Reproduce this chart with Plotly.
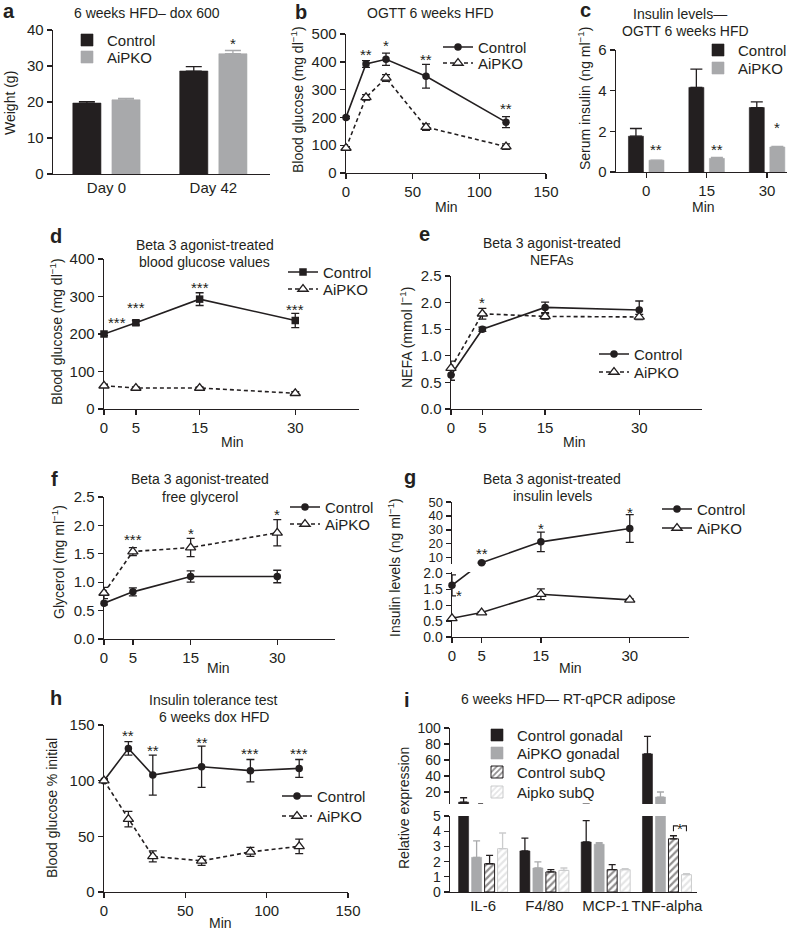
import plotly.graph_objects as go

W, H = 788, 933
FONT = "Liberation Sans, Arial, Helvetica, sans-serif"
INK = "#231f20"
GREY = "#a8a9ab"
LIGHT = "#cbcccd"
TICK_SIZE = 15
LEG_SIZE = 15

# ---------------- data ----------------
# a: body weight
a_days = ["Day 0", "Day 42"]
a_control = [19.7, 28.6]
a_control_sem = [0.4, 1.2]
a_aipko = [20.6, 33.4]
a_aipko_sem = [0.4, 0.9]
a_stars = ["", "*"]
a_star_y = [0, 37.3]

# b: OGTT glucose
b_min = [0, 15, 30, 60, 120]
b_control = [200, 392, 409, 348, 183]
b_control_sem = [4, 12, 22, 43, 20]
b_aipko = [90, 272, 342, 165, 95]
b_aipko_sem = [5, 10, 12, 12, 10]
b_stars = ["", "**", "*", "**", "**"]
b_star_y = [0, 440, 472, 421, 248]

# c: OGTT insulin
c_min = ["0", "15", "30"]
c_control = [1.76, 4.16, 3.17]
c_control_sem = [0.38, 0.9, 0.28]
c_aipko = [0.58, 0.67, 1.23]
c_aipko_sem = [0.0, 0.05, 0.03]
c_stars = ["**", "**", "*"]
c_star_y = [1.3, 1.3, 2.4]

# d-g: beta 3 agonist time course
t_min = [0, 5, 15, 30]
d_control = [200, 230, 293, 236]
d_control_sem = [4, 6, 17, 19]
d_aipko = [62, 56, 56, 42]
d_aipko_sem = [4, 3, 3, 4]
d_star_x = [2.1, 5, 15, 30]
d_star_y = [242, 281, 335, 277]
d_stars = ["***", "***", "***", "***"]

e_control = [0.64, 1.50, 1.91, 1.86]
e_control_sem = [0.10, 0.04, 0.10, 0.17]
e_aipko = [0.77, 1.79, 1.74, 1.73]
e_aipko_sem = [0.13, 0.10, 0.05, 0.05]
e_star_x = [5]
e_star_y = [2.08]
e_stars = ["*"]

f_control = [0.63, 0.83, 1.10, 1.10]
f_control_sem = [0.03, 0.07, 0.10, 0.11]
f_aipko = [0.81, 1.54, 1.61, 1.87]
f_aipko_sem = [0.10, 0.07, 0.16, 0.23]
f_star_x = [5, 15, 30]
f_star_y = [1.82, 1.93, 2.26]
f_stars = ["***", "*", "*"]

g_control = [1.63, 6.4, 21.4, 31.0]
g_control_sem = [0.33, 0.5, 7.0, 10.0]
g_aipko = [0.59, 0.77, 1.35, 1.17]
g_aipko_sem = [0.03, 0.03, 0.17, 0.03]
g_star_x = [1.2, 5, 15, 30]
g_star_y = [1.44, 16, 34, 45]
g_stars = ["*", "**", "*", "*"]

# h: insulin tolerance test
h_min = [0, 15, 30, 60, 90, 120]
h_control = [100, 129, 105, 112.5, 109, 111]
h_control_sem = [1.5, 6, 18, 18.5, 10, 8]
h_aipko = [100, 65.5, 32, 28, 36, 41]
h_aipko_sem = [1.5, 7, 5, 4, 4, 6.5]
h_star_x = [15, 30, 60, 90, 120]
h_star_y = [144, 131, 138, 128, 128]
h_stars = ["**", "**", "**", "***", "***"]

# i: RT-qPCR
i_genes = ["IL-6", "F4/80", "MCP-1", "TNF-alpha"]
i_ctrl_gon = [7.4, 2.7, 3.29, 67.6]
i_ctrl_gon_sem = [5.4, 0.85, 1.4, 22]
i_aipko_gon = [2.28, 1.58, 3.14, 13.7]
i_aipko_gon_sem = [1.08, 0.4, 0.1, 6.3]
i_ctrl_subq = [1.86, 1.32, 1.47, 3.5]
i_ctrl_subq_sem = [0.55, 0.15, 0.33, 0.2]
i_aipko_subq = [2.85, 1.42, 1.47, 1.14]
i_aipko_subq_sem = [1.03, 0.16, 0.07, 0.06]


# ---------------- helpers ----------------
def X(px):
    return px / W


def Y(py):
    return 1 - py / H


layout = dict(width=W, height=H, margin=dict(l=0, r=0, t=0, b=0, autoexpand=False),
              paper_bgcolor="white", plot_bgcolor="white",
              font=dict(family=FONT, size=14, color=INK),
              barmode="overlay", showlegend=True, hovermode=False)
annotations = []
shapes = []
fig = go.Figure()

AX = dict(showline=True, linecolor=INK, linewidth=1.4, ticks="outside", ticklen=5,
          tickwidth=1.4, tickcolor=INK, showgrid=False, zeroline=False,
          tickfont=dict(family=FONT, size=TICK_SIZE, color=INK), layer="below traces",
          fixedrange=True, automargin=False)


def axes(n, xpx, ypx, xr, yr, xkw=None, ykw=None):
    sx = "" if n == 1 else str(n)
    layout["xaxis" + sx] = dict(AX, domain=[X(xpx[0]), X(xpx[1])], range=xr,
                                anchor="y" + sx, **(xkw or {}))
    layout["yaxis" + sx] = dict(AX, domain=[Y(ypx[0]), Y(ypx[1])], range=yr,
                                anchor="x" + sx, **(ykw or {}))
    return "x" + sx, "y" + sx


def break_tick(xa, ya, yv):
    # small outside tick marking the bottom of an upper (broken) axis segment
    shapes.append(dict(type="line", xref=xa, yref=ya, xsizemode="pixel", xanchor=0,
                       x0=-5, x1=0, y0=yv, y1=yv, line=dict(color=INK, width=1.4)))


leg_count = [0]
LEG_HALF = 5 + (LEG_SIZE * 1.3 + 3) / 2


def legend_at(text_px, row_py):
    leg_count[0] += 1
    name = "legend" if leg_count[0] == 1 else "legend%d" % leg_count[0]
    layout[name] = dict(x=X(text_px - 40), xanchor="left", y=Y(row_py - LEG_HALF),
                        yanchor="top", bgcolor="rgba(0,0,0,0)", borderwidth=0,
                        font=dict(family=FONT, size=LEG_SIZE, color=INK), itemwidth=30,
                        tracegroupgap=0)
    return name


def text(px, py, s, size=14, bold=False, xanchor="center", angle=0):
    annotations.append(dict(x=X(px), y=Y(py), xref="paper", yref="paper",
                            text="<b>%s</b>" % s if bold else s, showarrow=False,
                            xanchor=xanchor, yanchor="middle", textangle=angle,
                            font=dict(family=FONT, size=size, color=INK)))


def stars(xa, ya, xs, ys, labels):
    for xv, yv, t in zip(xs, ys, labels):
        if t:
            annotations.append(dict(x=xv, y=yv, xref=xa, yref=ya, text=t, showarrow=False,
                                    yshift=-4, font=dict(family=FONT, size=15, color=INK)))


CTRL_LINE = dict(color=INK, width=1.6)
AIP_DASH = dict(color=INK, width=1.6, dash="4px,3px")
CTRL_MARK = dict(symbol="circle", size=7.5, color=INK)
AIP_MARK = dict(symbol="triangle-up", size=9, color="white", line=dict(color=INK, width=1.3))


def err(arr):
    return dict(type="data", array=arr, color=INK, thickness=1.3, width=4)


def line_pair(xa, ya, xs, ctrl, ctrl_sem, aip, aip_sem, leg1, leg2,
              ctrl_symbol="circle", aip_line=AIP_DASH):
    fig.add_trace(go.Scatter(x=xs, y=ctrl, xaxis=xa, yaxis=ya, mode="lines+markers",
                             name="Control", legend=leg1, line=CTRL_LINE,
                             marker=dict(CTRL_MARK, symbol=ctrl_symbol),
                             error_y=err(ctrl_sem), cliponaxis=False))
    fig.add_trace(go.Scatter(x=xs, y=aip, xaxis=xa, yaxis=ya, mode="lines+markers",
                             name="AiPKO", legend=leg2, line=aip_line, marker=AIP_MARK,
                             error_y=err(aip_sem), cliponaxis=False))


def bar(xa, ya, vals, sem, name, marker, ecolor, width, center, capw, leg=None, show=True):
    n = len(vals)
    fig.add_trace(go.Bar(x=list(range(n)), y=vals, xaxis=xa, yaxis=ya, name=name,
                         width=width, offset=center - width / 2, marker=marker,
                         legend=leg if leg else "legend", showlegend=show,
                         error_y=dict(type="data", array=sem, arrayminus=[0] * n,
                                      symmetric=False, color=ecolor, thickness=1.3,
                                      width=capw)))


BAR_DARK = dict(color=INK, line=dict(color=INK, width=0.6))
BAR_GREY = dict(color=GREY, line=dict(color=GREY, width=0.6))

# ---------------- panel a ----------------
xa, ya = axes(1, (53, 270), (174, 30), [-0.5, 1.53], [0, 40],
              xkw=dict(tickvals=[0, 1], ticktext=a_days, ticks=""),
              ykw=dict(dtick=10))
A_W, A_C = 0.263, 0.183
bar(xa, ya, a_control, a_control_sem, "Control", BAR_DARK, INK, A_W, -A_C, 8, legend_at(107, 40))
bar(xa, ya, a_aipko, a_aipko_sem, "AiPKO", BAR_GREY, GREY, A_W, A_C, 8, legend_at(107, 57))
stars(xa, ya, [k + A_C for k in range(len(a_days))], a_star_y, a_stars)

# ---------------- panel b ----------------
xa, ya = axes(2, (346, 546), (173, 34), [0, 150], [0, 500],
              xkw=dict(dtick=50), ykw=dict(dtick=100))
line_pair(xa, ya, b_min, b_control, b_control_sem, b_aipko, b_aipko_sem,
          legend_at(478, 47), legend_at(478, 63))
stars(xa, ya, b_min, b_star_y, b_stars)

# ---------------- panel c ----------------
xa, ya = axes(3, (616, 787), (172, 50), [-0.5, 2.33], [0, 6],
              xkw=dict(tickvals=[0, 1, 2], ticktext=c_min), ykw=dict(dtick=2))
C_W, C_C = 0.248, 0.17
bar(xa, ya, c_control, c_control_sem, "Control", BAR_DARK, INK, C_W, -C_C, 6, legend_at(738, 50))
bar(xa, ya, c_aipko, c_aipko_sem, "AiPKO", BAR_GREY, GREY, C_W, C_C, 6, legend_at(738, 68))
stars(xa, ya, [k + C_C for k in range(len(c_min))], c_star_y, c_stars)

# ---------------- panel d ----------------
TX = dict(tickvals=t_min)
xa, ya = axes(4, (104, 359), (409, 259), [0, 40], [0, 400], xkw=TX, ykw=dict(dtick=100))
line_pair(xa, ya, t_min, d_control, d_control_sem, d_aipko, d_aipko_sem,
          legend_at(323, 272), legend_at(323, 289), ctrl_symbol="square")
stars(xa, ya, d_star_x, d_star_y, d_stars)

# ---------------- panel e ----------------
YF = dict(dtick=0.5, tickformat=".1f")
xa, ya = axes(5, (451, 702), (409, 276), [0, 40], [0, 2.5], xkw=TX, ykw=YF)
line_pair(xa, ya, t_min, e_control, e_control_sem, e_aipko, e_aipko_sem,
          legend_at(634, 354), legend_at(634, 372))
stars(xa, ya, e_star_x, e_star_y, e_stars)

# ---------------- panel f ----------------
xa, ya = axes(6, (104, 335), (639, 497), [0, 40], [0, 2.5], xkw=TX, ykw=YF)
line_pair(xa, ya, t_min, f_control, f_control_sem, f_aipko, f_aipko_sem,
          legend_at(325, 507), legend_at(325, 524))
stars(xa, ya, f_star_x, f_star_y, f_stars)

# ---------------- panel g (broken axis) ----------------
G_LO, G_HI = [0, 2.05], [5.5, 50]
G_LO_PX, G_HI_PX = (637, 572), (564, 502)
xlo, ylo = axes(7, (452, 689), G_LO_PX, [0, 40], G_LO, xkw=TX,
                ykw=dict(tickvals=[0, 0.5, 1, 1.5, 2], tickformat=".1f",
                         tickfont=dict(family=FONT, size=14, color=INK)))
xhi, yhi = axes(8, (452, 689), G_HI_PX, [0, 40], G_HI,
                xkw=dict(visible=False),
                ykw=dict(tickvals=[10, 20, 30, 40, 50],
                         tickfont=dict(family=FONT, size=13, color=INK)))
break_tick(xhi, yhi, G_HI[0])


def seg_py(v, rng, px):
    return px[0] + (v - rng[0]) / (rng[1] - rng[0]) * (px[1] - px[0])


def seg_val(py, rng, px):
    return rng[0] + (py - px[0]) / (px[1] - px[0]) * (rng[1] - rng[0])


def in_seg(v, rng):
    return rng[0] <= v <= rng[1]


leg_gc, leg_ga = legend_at(697, 509), legend_at(697, 528)
for xax, yax, rng, px, orng, opx in ((xlo, ylo, G_LO, G_LO_PX, G_HI, G_HI_PX),
                                     (xhi, yhi, G_HI, G_HI_PX, G_LO, G_LO_PX)):
    # line drawn straight across the break: points of the other segment are
    # re-expressed in this segment's coordinates, then clipped by the axis
    y_cont = [v if in_seg(v, rng) else seg_val(seg_py(v, orng, opx), rng, px)
              for v in g_control]
    fig.add_trace(go.Scatter(x=t_min, y=y_cont, xaxis=xax, yaxis=yax, mode="lines",
                             line=CTRL_LINE, showlegend=False, cliponaxis=True,
                             hoverinfo="skip"))
    idx = [k for k, v in enumerate(g_control) if in_seg(v, rng)]
    fig.add_trace(go.Scatter(x=[t_min[k] for k in idx], y=[g_control[k] for k in idx],
                             xaxis=xax, yaxis=yax, mode="markers", showlegend=False,
                             marker=CTRL_MARK,
                             error_y=err([g_control_sem[k] for k in idx]), cliponaxis=False))
fig.add_trace(go.Scatter(x=[None], y=[None], xaxis=xlo, yaxis=ylo, mode="lines+markers",
                         name="Control", legend=leg_gc, line=CTRL_LINE, marker=CTRL_MARK))
fig.add_trace(go.Scatter(x=t_min, y=g_aipko, xaxis=xlo, yaxis=ylo, mode="lines+markers",
                         name="AiPKO", legend=leg_ga, line=CTRL_LINE, marker=AIP_MARK,
                         error_y=err(g_aipko_sem), cliponaxis=False))
for xv, yv, t in zip(g_star_x, g_star_y, g_stars):
    if yv <= G_LO[1]:
        stars(xlo, ylo, [xv], [yv], [t])
    else:
        stars(xhi, yhi, [xv], [yv], [t])

# ---------------- panel h ----------------
xa, ya = axes(9, (104, 348), (892, 725), [0, 150], [0, 150],
              xkw=dict(dtick=50), ykw=dict(dtick=50))
line_pair(xa, ya, h_min, h_control, h_control_sem, h_aipko, h_aipko_sem,
          legend_at(317, 796), legend_at(317, 816))
stars(xa, ya, h_star_x, h_star_y, h_stars)

# ---------------- panel i (broken axis) ----------------
I_LO, I_HI = [0, 5], [5, 100]
xlo, ylo = axes(10, (450, 697), (892, 816), [-0.54, 3.49], I_LO,
                xkw=dict(tickvals=list(range(len(i_genes))), ticktext=i_genes, ticks="",
                         tickangle=0),
                ykw=dict(dtick=1, tickfont=dict(family=FONT, size=14, color=INK)))
xhi, yhi = axes(11, (450, 697), (804, 728), [-0.54, 3.49], I_HI,
                xkw=dict(visible=False),
                ykw=dict(tickvals=[20, 40, 60, 80, 100],
                         tickfont=dict(family=FONT, size=14, color=INK)))
break_tick(xhi, yhi, I_HI[0])
I_W = 0.163
I_CENTERS = [-0.318, -0.106, 0.106, 0.318]
HATCH_D = dict(color="white", line=dict(color=INK, width=1),
               pattern=dict(shape="/", fgcolor=INK, bgcolor="white", size=5, solidity=0.45))
HATCH_L = dict(color="white", line=dict(color=LIGHT, width=1),
               pattern=dict(shape="/", fgcolor=LIGHT, bgcolor="white", size=5, solidity=0.45))
i_series = [
    ("Control gonadal", i_ctrl_gon, i_ctrl_gon_sem, BAR_DARK, INK),
    ("AiPKO gonadal", i_aipko_gon, i_aipko_gon_sem, BAR_GREY, GREY),
    ("Control subQ", i_ctrl_subq, i_ctrl_subq_sem, HATCH_D, INK),
    ("Aipko subQ", i_aipko_subq, i_aipko_subq_sem, HATCH_L, LIGHT),
]
i_rows = [735, 753, 772, 792]
for (name, vals, sem, mk, ec), cen, row in zip(i_series, I_CENTERS, i_rows):
    bar(xlo, ylo, vals, sem, name, mk, ec, I_W, cen, 3.5, legend_at(517, row))
    bar(xhi, yhi, vals, sem, name, mk, ec, I_W, cen, 3.5, show=False)

# significance bracket: TNF-alpha control subQ vs Aipko subQ
k = len(i_genes) - 1
bx1, bx2 = k + I_CENTERS[2], k + I_CENTERS[3]
by_top = i_ctrl_subq[k] + i_ctrl_subq_sem[k] + 0.65
by_low = by_top - 0.35
bxm = (bx1 + bx2) / 2
for path in ("M %f,%f L %f,%f L %f,%f" % (bx1, by_low, bx1, by_top, bxm - 0.035, by_top),
             "M %f,%f L %f,%f L %f,%f" % (bxm + 0.035, by_top, bx2, by_top, bx2, by_low)):
    shapes.append(dict(type="path", path=path, xref=xlo, yref=ylo,
                       line=dict(color=INK, width=1.1)))
annotations.append(dict(x=bxm, y=by_top, xref=xlo, yref=ylo, text="*", showarrow=False,
                        yshift=-3, font=dict(family=FONT, size=15, color=INK)))

# ---------------- text: letters, titles, axis labels ----------------
for s, px, py in (("a", 1, 11), ("b", 293, 12), ("c", 578, 10), ("d", 48, 236),
                  ("e", 417, 234), ("f", 49, 479), ("g", 402, 477), ("h", 48, 698),
                  ("i", 402, 700)):
    text(px, py, s, size=20, bold=True, xanchor="left")

for s, px, py in (("6 weeks HFD– dox 600", 147, 13),
                  ("OGTT 6 weeks HFD", 431, 13),
                  ("Insulin levels—", 680, 14), ("OGTT 6 weeks HFD", 685, 31),
                  ("Beta 3 agonist-treated", 205, 245), ("blood glucose values", 205, 262),
                  ("Beta 3 agonist-treated", 552, 243), ("NEFAs", 552, 260),
                  ("Beta 3 agonist-treated", 200, 479), ("free glycerol", 200, 497),
                  ("Beta 3 agonist-treated", 552, 479), ("insulin levels", 552, 496),
                  ("Insulin tolerance test", 214, 700), ("6 weeks dox HFD", 214, 717),
                  ("6 weeks HFD— RT-qPCR adipose", 568, 699)):
    text(px, py, s)

SUP = "<sup>−1</sup>"
for s, px, py in (("Weight (g)", 10, 103),
                  ("Blood glucose (mg dl%s)" % SUP, 297, 100),
                  ("Serum insulin (ng ml%s)" % SUP, 584, 99),
                  ("Blood glucose (mg dl%s)" % SUP, 56, 332),
                  ("NEFA (mmol l%s)" % SUP, 406, 338),
                  ("Glycerol (mg ml%s)" % SUP, 58, 562),
                  ("Insulin levels (ng ml%s)" % SUP, 394, 568),
                  ("Blood glucose % initial", 52, 808),
                  ("Relative expression", 404, 808)):
    text(px, py, s, angle=-90)

for px, py in ((446, 207), (703, 207), (232, 442), (574, 442), (218, 668), (570, 668),
               (220, 923)):
    text(px, py, "Min")

layout["annotations"] = annotations
layout["shapes"] = shapes
fig.update_layout(**layout)
fig.write_html("out.html",
               config={"displayModeBar": False, "staticPlot": True},
               post_script="document.body.style.margin='0';"
                           "document.body.style.overflow='hidden';")
